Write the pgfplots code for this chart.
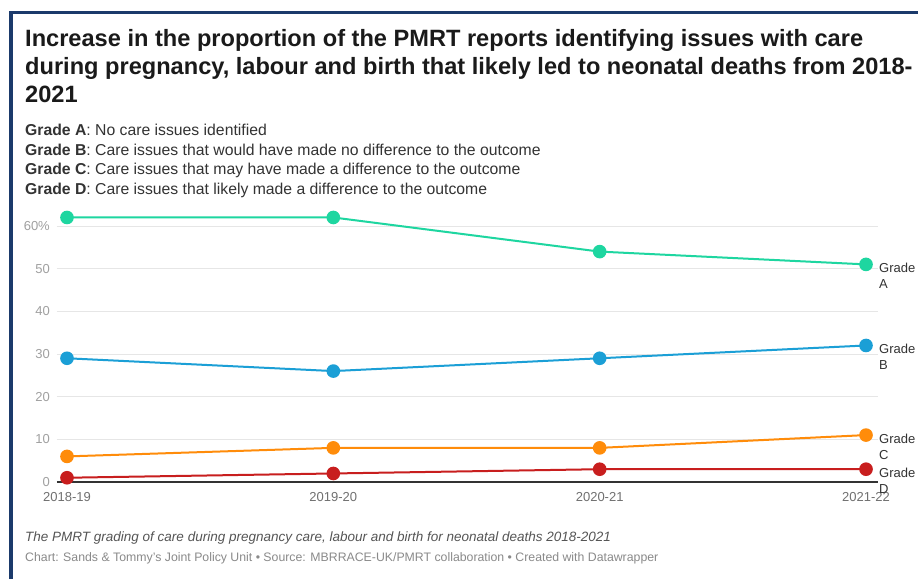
\documentclass[border=0pt]{standalone}
\usepackage{pgfplots}
\pgfplotsset{compat=1.18}
\usepackage{fontspec}
\setmainfont{Liberation Sans}

\definecolor{gradeA}{HTML}{1ED6A0}
\definecolor{gradeB}{HTML}{1B9FD6}
\definecolor{gradeC}{HTML}{FF8C0A}
\definecolor{gradeD}{HTML}{C81E1E}
\definecolor{framec}{HTML}{1B3A6B}
\definecolor{titlec}{HTML}{1A1A1A}
\definecolor{legc}{HTML}{333333}
\definecolor{tickc}{HTML}{A0A0A0}
\definecolor{xtickc}{HTML}{707070}
\definecolor{gridc}{HTML}{E6E6E6}
\definecolor{axisc}{HTML}{333333}
\definecolor{notec}{HTML}{555555}
\definecolor{srcc}{HTML}{8A8A8A}

\begin{document}
\begin{tikzpicture}[x=1pt,y=1pt]
\useasboundingbox (0,0) rectangle (918,-579);
\fill[white] (0,0) rectangle (918,-579);
\draw[framec, line width=3.5pt] (11,-579) -- (11,-12.5) -- (918,-12.5);

% title
\begin{scope}[every node/.style={anchor=base west, inner sep=0pt, text=titlec,
    font=\fontsize{23.6}{28}\selectfont\bfseries}]
\node at (25,-46.7) {Increase in the proportion of the PMRT reports identifying issues with care};
\node at (25,-74.7) {during pregnancy, labour and birth that likely led to neonatal deaths from 2018-};
\node at (25,-102.7) {2021};
\end{scope}

% grade descriptions
\begin{scope}[every node/.style={anchor=base west, inner sep=0pt, text=legc,
    font=\fontsize{15.75}{15.75}\selectfont}]
\node at (25,-135.7) {\textbf{Grade A}: No care issues identified};
\node at (25,-155.3) {\textbf{Grade B}: Care issues that would have made no difference to the outcome};
\node at (25,-174.9) {\textbf{Grade C}: Care issues that may have made a difference to the outcome};
\node at (25,-194.5) {\textbf{Grade D}: Care issues that likely made a difference to the outcome};
\end{scope}

\begin{axis}[
    at={(57pt,-482pt)}, anchor=south west,
    scale only axis,
    width=821pt, height=273.07pt,
    xmin=-0.0375, xmax=3.045,
    ymin=0, ymax=64,
    axis line style={draw=none},
    major tick length=0pt,
    xtick={0,1,2,3},
    xticklabels={2018-19,2019-20,2020-21,2021-22},
    ytick={10,20,30,40,50,60},
    yticklabels={10,20,30,40,50,60\%},
    extra y ticks={0},
    extra y tick labels={0},
    extra y tick style={grid style={draw=axisc, line width=1.3pt}},
    ymajorgrids,
    grid style={draw=gridc, line width=1pt},
    tick label style={font=\fontsize{13}{13}\selectfont, text=tickc},
    xticklabel style={anchor=north, inner sep=0pt, yshift=-10pt, text=xtickc},
    yticklabel style={anchor=east, inner sep=0pt, xshift=-7pt},
    clip=false,
    every axis plot/.append style={line width=2pt, mark=*, mark size=5.8pt, mark options={solid}},
  ]
  \addplot[color=gradeA] coordinates {(0,62) (1,62) (2,54) (3,51)};
  \addplot[color=gradeB] coordinates {(0,29) (1,26) (2,29) (3,32)};
  \addplot[color=gradeC] coordinates {(0,6) (1,8) (2,8) (3,11)};
  \addplot[color=gradeD] coordinates {(0,1) (1,2) (2,3) (3,3)};

  \begin{scope}[every node/.style={anchor=base west, inner sep=0pt, text=legc,
      font=\fontsize{13}{13}\selectfont}]
  \node[xshift=13pt, yshift=-8pt] at (axis cs:3,51) {Grade};
  \node[xshift=13pt, yshift=-24pt] at (axis cs:3,51) {A};
  \node[xshift=13pt, yshift=-8pt] at (axis cs:3,32) {Grade};
  \node[xshift=13pt, yshift=-24pt] at (axis cs:3,32) {B};
  \node[xshift=13pt, yshift=-8pt] at (axis cs:3,11) {Grade};
  \node[xshift=13pt, yshift=-24pt] at (axis cs:3,11) {C};
  \node[xshift=13pt, yshift=-8pt] at (axis cs:3,3) {Grade};
  \node[xshift=13pt, yshift=-24pt] at (axis cs:3,3) {D};
  \end{scope}
\end{axis}

% notes
\node[anchor=base west, inner sep=0pt, text=notec, font=\fontsize{13.5}{13.5}\selectfont\itshape]
  at (25,-541) {The PMRT grading of care during pregnancy care, labour and birth for neonatal deaths 2018-2021};
\node[anchor=base west, inner sep=0pt, text=srcc, font=\fontsize{12.3}{12.3}\selectfont]
  at (25,-561.5) {Chart: Sands \& Tommy's Joint Policy Unit \textbullet{} Source: MBRRACE-UK/PMRT collaboration \textbullet{} Created with Datawrapper};
\end{tikzpicture}
\end{document}
